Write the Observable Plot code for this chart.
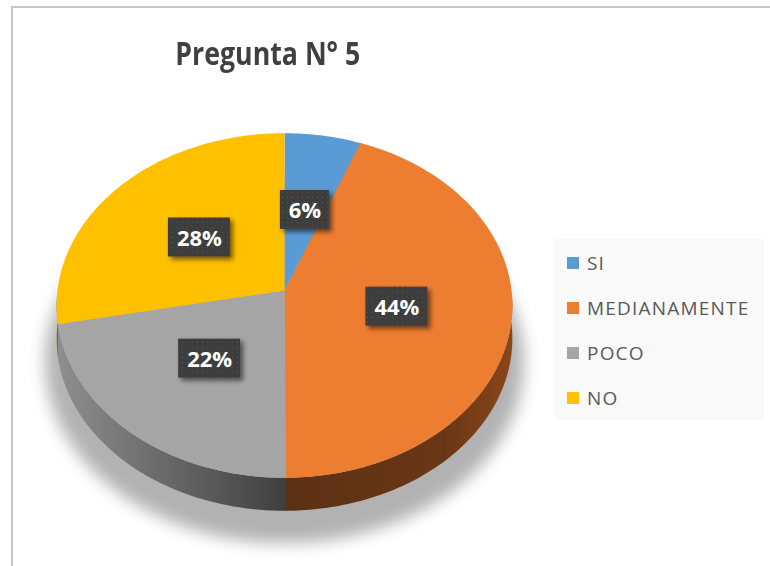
<!DOCTYPE html>
<html><head><meta charset="utf-8">
<script src="https://cdn.jsdelivr.net/npm/d3@7"></script>
<script src="https://cdn.jsdelivr.net/npm/@observablehq/plot@0.6"></script>
<style>
html,body{margin:0;padding:0;background:#fff;}
#wrap{position:relative;width:770px;height:566px;overflow:hidden;font-family:"Open Sans",sans-serif;}
#chart{position:absolute;left:0;top:0;}
#frame{position:absolute;left:11px;top:6px;width:800px;height:600px;border-left:2px solid #c6c6c6;border-top:2px solid #c6c6c6;box-sizing:border-box;}
#title{position:absolute;left:0;width:536px;top:31px;text-align:center;font-weight:700;font-size:32px;line-height:normal;color:#404040;white-space:nowrap;}
#title span{display:inline-block;transform-origin:50% 50%;}
#legend{position:absolute;left:554px;top:239px;width:210px;height:181px;background:#f9f9f9;box-sizing:border-box;padding:1px 0 0 13px;}
#legend .lg-swatches{font-family:"Open Sans",sans-serif;font-size:19px;color:#595959;margin:0;padding:0;}
#legend .lg-swatch{height:45px;padding:0;margin:0;display:flex;align-items:center;}
#legend .lg-swatch svg{margin-right:8px;}
#legend .lg-swatch-label{letter-spacing:1.2px;overflow:visible;}
</style></head>
<body>
<div id="wrap"><div id="chart"></div><div id="frame"></div><div id="title"><span>Pregunta N° 5</span></div><div id="legend"></div></div>
<script>
// ---- data ----
const categories = ["SI", "MEDIANAMENTE", "POCO", "NO"];
const percents = [6, 44, 22, 28];
const colors = ["#5B9BD5", "#ED7D31", "#A5A5A5", "#FFC000"];
const labels = percents.map(p => p + "%");
const title = "Pregunta N° 5";

// ---- styling / geometry of the tilted pie ----
const wallFills = ["url(#wall0)", "url(#wall1)", "url(#wall2)", "url(#wall3)"];
const CX = 284, CY = 290, A = 227, B = 171, K = 0.087, DEPTH = 33;
const dz = DEPTH / B;
const SEAM = 0.4 * Math.PI / 180; // tiny overlap so slices leave no hairline gaps

function proj(r, t, shift) {
  const u = r * Math.sin(t), v = r * Math.cos(t), w = 1 + K * v;
  return {x: u / w, y: v / w - shift};
}
function arcPts(r, t0, t1, shift) {
  const n = Math.max(2, Math.ceil(Math.abs(t1 - t0) / (Math.PI / 180)));
  const out = [];
  for (let i = 0; i <= n; i++) out.push(proj(r, t0 + (t1 - t0) * i / n, shift));
  return out;
}

const arcs = d3.pie().sort(null).value(d => d)(percents);

// shadow
const shadow = arcPts(1.05, 0, 2 * Math.PI, dz + 22 / B).map(p => ({...p, key: "s", fill: "#000000"}));

// side walls (front half only)
const walls = [];
arcs.forEach((a, i) => {
  const s = Math.max(a.startAngle - SEAM, Math.PI / 2), e = Math.min(a.endAngle, 3 * Math.PI / 2);
  if (e <= s) return;
  const top = arcPts(1, s, e, 0), bot = arcPts(1, e, s, dz);
  for (const p of [...top, ...bot]) walls.push({...p, key: categories[i], fill: wallFills[i]});
});

// top faces
const tops = [];
arcs.forEach((a, i) => {
  const pts = [{x: 0, y: 0}, ...arcPts(1, a.startAngle - (i ? SEAM : 0), a.endAngle, 0)];
  for (const p of pts) tops.push({...p, key: categories[i], fill: colors[i]});
});

// labels at half radius on mid angle
const labelData = arcs.map((a, i) => {
  const p = proj(0.5, (a.startAngle + a.endAngle) / 2, 0);
  const wpx = 23 + 13 * labels[i].length, hpx = 39;
  return {x: p.x, y: p.y, text: labels[i], x1: p.x - wpx / 2 / A, x2: p.x + wpx / 2 / A, y1: p.y - hpx / 2 / B, y2: p.y + hpx / 2 / B};
});

const svg = Plot.plot({
  width: 770, height: 566, margin: 0,
  style: {background: "transparent", overflow: "visible"},
  x: {domain: [-1, 1], range: [CX - A, CX + A], axis: null},
  y: {domain: [-1, 1], range: [CY + B, CY - B], axis: null},
  color: {type: "identity"},
  marks: [
    Plot.line(shadow, {x: "x", y: "y", z: "key", fill: "fill", fillOpacity: 0.3, className: "pshadow"}),
    Plot.line(walls, {x: "x", y: "y", z: "key", fill: "fill", className: "pwalls"}),
    Plot.line(tops, {x: "x", y: "y", z: "key", fill: "fill", className: "ptops"}),
    Plot.rect(labelData, {x1: "x1", x2: "x2", y1: "y1", y2: "y2", fill: "url(#dots)", className: "pboxes"}),
    Plot.text(labelData, {x: "x", y: "y", text: "text", fill: "white", fontWeight: "bold", fontSize: 22, fontFamily: "Open Sans", dy: 1})
  ]
});

const defs = document.createElementNS("http://www.w3.org/2000/svg", "defs");
defs.innerHTML = `
<filter id="blur" x="-30%" y="-30%" width="160%" height="160%"><feGaussianBlur stdDeviation="8"/></filter>
<filter id="ds" x="-40%" y="-40%" width="180%" height="180%">
  <feGaussianBlur in="SourceAlpha" stdDeviation="2.5"/><feOffset dx="3" dy="3" result="o"/>
  <feComponentTransfer><feFuncA type="linear" slope="0.55"/></feComponentTransfer>
  <feMerge><feMergeNode/><feMergeNode in="SourceGraphic"/></feMerge></filter>
<pattern id="dots" width="5" height="5" patternUnits="userSpaceOnUse"><rect width="5" height="5" fill="#3d3d3d"/><rect x="2" y="2" width="1" height="1" fill="#575757"/></pattern>
<linearGradient id="wall1" x1="0" x2="1" y1="0" y2="0"><stop offset="0" stop-color="#5c3014"/><stop offset="0.7" stop-color="#6a3716"/><stop offset="1" stop-color="#8a461b"/></linearGradient>
<linearGradient id="wall2" x1="0" x2="1" y1="0" y2="0"><stop offset="0" stop-color="#8e8e8e"/><stop offset="1" stop-color="#3f3f3f"/></linearGradient>
<linearGradient id="wall3" x1="0" x2="1" y1="0" y2="0"><stop offset="0" stop-color="#9a7400"/><stop offset="1" stop-color="#8a6800"/></linearGradient>
<linearGradient id="wall0" x1="0" x2="1" y1="0" y2="0"><stop offset="0" stop-color="#3a6a98"/><stop offset="1" stop-color="#3a6a98"/></linearGradient>`;
svg.insertBefore(defs, svg.firstChild);
const gShadow = svg.querySelector("g.pshadow"), gBoxes = svg.querySelector("g.pboxes");
if (gShadow) gShadow.setAttribute("filter", "url(#blur)");
if (gBoxes) gBoxes.setAttribute("filter", "url(#ds)");
document.getElementById("chart").appendChild(svg);

// legend
const leg = Plot.legend({
  color: {type: "ordinal", domain: categories, range: colors},
  legend: "swatches", columns: 1, swatchSize: 12, className: "lg"
});
document.getElementById("legend").appendChild(leg);

// title fit to the reference width
const ts = document.querySelector("#title span");
ts.textContent = title;
const tw = ts.getBoundingClientRect().width;
ts.style.transform = `scaleX(${185 / tw})`;
</script>
</body></html>
